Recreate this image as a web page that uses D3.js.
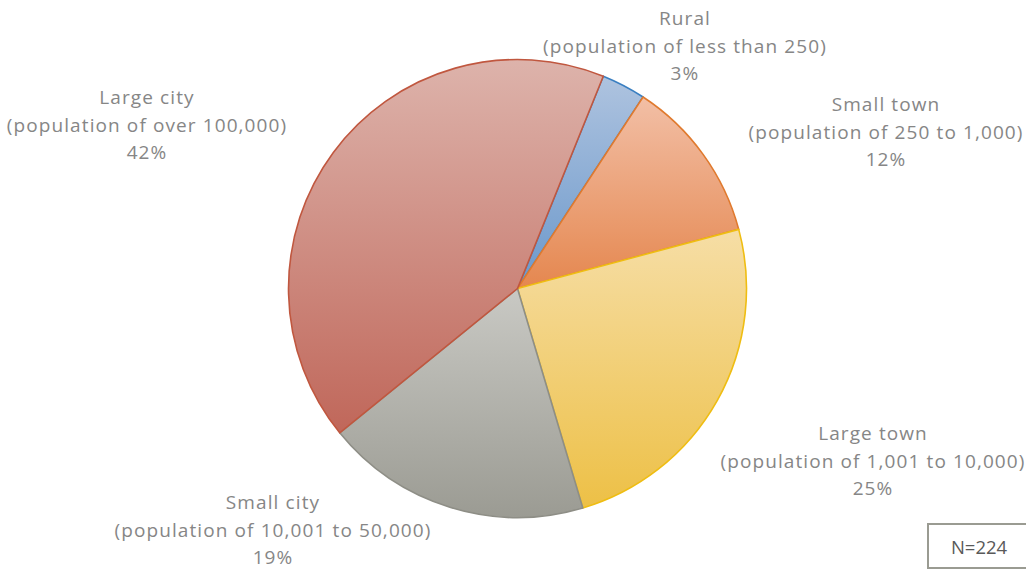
<!DOCTYPE html>
<html>
<head>
<meta charset="utf-8">
<script src="https://cdn.jsdelivr.net/npm/d3@7"></script>
<style>
  html, body { margin: 0; padding: 0; background: #ffffff; }
  svg { display: block; }
  text { font-family: "Open Sans", Lato, sans-serif; }
</style>
</head>
<body>
<svg id="chart" width="1026" height="569"></svg>
<script>
// Respondents by community size (counts)
const categories = ["Rural", "Small town", "Large town", "Small city", "Large city"];
const subtitles = [
  "(population of less than 250)",
  "(population of 250 to 1,000)",
  "(population of 1,001 to 10,000)",
  "(population of 10,001 to 50,000)",
  "(population of over 100,000)"
];
const counts = [7, 26, 55, 42, 94];

// Slice gradients (top, bottom) and outlines
const gradTop    = ["#aec3df", "#f2bfa6", "#f6dea6", "#c9c9c4", "#ddb3ab"];
const gradBottom = ["#6b98cb", "#e5874f", "#edc046", "#9b9b93", "#c0675a"];
const outline    = ["#3a7fc1", "#e07a2e", "#efbd12", "#8e8e86", "#c0573f"];

// Label anchor points (centre of each three-line block)
const labelPos = [[685, 46], [886, 132], [873, 461], [273, 530], [147, 125]];

const svg = d3.select("#chart");
const cx = 517.5, cy = 288.5, radius = 229;
const total = d3.sum(counts);

const defs = svg.append("defs");
categories.forEach((c, i) => {
  const g = defs.append("linearGradient")
    .attr("id", "grad" + i)
    .attr("x1", 0).attr("y1", 0).attr("x2", 0).attr("y2", 1);
  g.append("stop").attr("offset", "0%").attr("stop-color", gradTop[i]);
  g.append("stop").attr("offset", "100%").attr("stop-color", gradBottom[i]);
});

const data = categories.map((c, i) => ({ name: c, sub: subtitles[i], value: counts[i], i }));

const startDeg = 22;
const pie = d3.pie()
  .value(d => d.value)
  .sort(null)
  .startAngle(startDeg * Math.PI / 180)
  .endAngle((startDeg + 360) * Math.PI / 180);

const arc = d3.arc().innerRadius(0).outerRadius(radius);

const g = svg.append("g").attr("transform", `translate(${cx},${cy})`);
g.selectAll("path.slice")
  .data(pie(data))
  .join("path")
  .attr("class", "slice")
  .attr("d", arc)
  .attr("fill", d => `url(#grad${d.data.i})`)
  .attr("stroke", d => outline[d.data.i])
  .attr("stroke-width", 1.6)
  .attr("stroke-linejoin", "round");

// Data labels
const lineH = 27.5;
const labels = svg.append("g")
  .attr("font-size", 19)
  .attr("letter-spacing", 1.1)
  .attr("fill", "#868686")
  .attr("text-anchor", "middle");

data.forEach((d, i) => {
  const [x, y] = labelPos[i];
  const pct = Math.round(d.value / total * 100) + "%";
  const t = labels.append("text");
  [d.name, d.sub, pct].forEach((line, k) => {
    t.append("tspan").attr("x", x).attr("y", y + (k - 1) * lineH).attr("dy", "0.35em").text(line);
  });
});

// Sample size box
const nBox = svg.append("g");
nBox.append("rect")
  .attr("x", 928).attr("y", 524)
  .attr("width", 110).attr("height", 44)
  .attr("fill", "#ffffff")
  .attr("stroke", "#9a9b92")
  .attr("stroke-width", 2);
nBox.append("text")
  .attr("x", 979).attr("y", 548).attr("dy", "0.35em")
  .attr("text-anchor", "middle")
  .attr("font-size", 18.5)
  .attr("fill", "#595959")
  .text("N=" + total);
</script>
</body>
</html>
